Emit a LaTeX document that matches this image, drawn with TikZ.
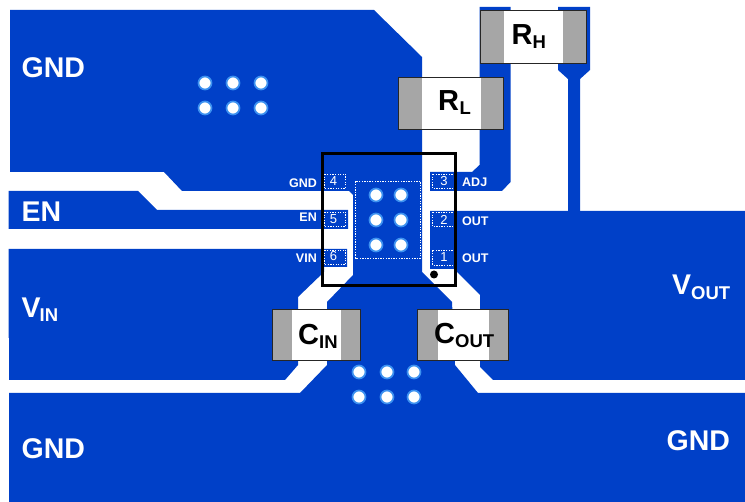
\documentclass[tikz,border=0pt]{standalone}
\usepackage{fontspec}
\setmainfont{Liberation Sans}
\definecolor{copper}{RGB}{0,64,200}
\definecolor{viaring}{RGB}{60,145,240}
\definecolor{capend}{RGB}{166,166,166}
\tikzset{
    copperfill/.style={fill=copper, draw=none},
    capbody/.style={fill=white, draw=none},
    capgrey/.style={fill=capend, draw=none},
    capline/.style={draw=black!85, line width=1pt},
    padline/.style={draw=white, line width=0.8pt, dash pattern=on 1.3pt off 1.3pt},
    viadot/.style={fill=white, draw=viaring, line width=1.7pt},
    bigtext/.style={text=white, font=\bfseries\fontsize{28.5}{28.5}\selectfont, inner sep=0pt, anchor=base west},
    bigsub/.style={text=white, font=\bfseries\fontsize{18.5}{18.5}\selectfont, inner sep=0pt, anchor=base west},
    captext/.style={text=black, font=\bfseries\fontsize{29}{29}\selectfont, inner sep=0pt, anchor=base west},
    capsub/.style={text=black, font=\bfseries\fontsize{18.5}{18.5}\selectfont, inner sep=0pt, anchor=base west},
    pintext/.style={text=white, font=\bfseries\fontsize{12.5}{12.5}\selectfont, inner sep=0pt},
    pinnum/.style={text=white, font=\fontsize{13}{13}\selectfont, inner sep=0pt}
}
\begin{document}
\begin{tikzpicture}[x=1pt,y=-1pt]
    \useasboundingbox (0,0) rectangle (745,502);
    % copper areas
    \path[copperfill] (10,10) -- (374,10) -- (422,57) -- (422,272) -- (452,302) -- (455,365)
        -- (478,393) -- (745,393) -- (745,502) -- (9,502) -- (9,393) -- (300,393) -- (327,365)
        -- (327,302) -- (353,275) -- (353,195) -- (349,191) -- (182,191) -- (164,172) -- (10,172) -- cycle;
    \path[copperfill] (8.5,191) -- (138,191) -- (157,210) -- (348,210) -- (348,229) -- (8.5,229) -- cycle;
    \path[copperfill] (8.5,249) -- (347,249) -- (347,267) -- (324,267) -- (324,272) -- (298,297)
        -- (298,365) -- (285,380) -- (9,380) -- (9,338) -- (8.5,338) -- cycle;
    \path[copperfill] (430,211) -- (745,211) -- (745,380) -- (493,380) -- (480,367) -- (480,295)
        -- (457,272) -- (457,269) -- (430,269) -- cycle;
    \path[copperfill] (479.5,7) -- (510.5,7) -- (510.5,182) -- (502,191) -- (430,191) -- (430,172)
        -- (472,172) -- (479.5,165) -- cycle;
    \path[copperfill] (558,7) -- (590,7) -- (590,70) -- (580,79) -- (580,211) -- (568,211)
        -- (568,79) -- (558,70) -- cycle;
    % vias
    \foreach \x in {205,233,261}{
        \foreach \y in {83,108}{
            \filldraw[viadot] (\x,\y) circle (6.5pt);
        };
    };
    \foreach \x in {376,401}{
        \foreach \y in {195,220,245}{
            \filldraw[viadot] (\x,\y) circle (6.5pt);
        };
    };
    \foreach \x in {359,387,414}{
        \foreach \y in {372,397}{
            \filldraw[viadot] (\x,\y) circle (6.5pt);
        };
    };
    % chip pads
    \draw[padline] (355.5,181.5) rectangle (420.5,258);
    \foreach \y/\n/\m/\ny/\ly in {174/4/GND/181/183.5,212/5/EN/219.5/217.5,250/6/VIN/256/258}{
        \draw[padline] (324,\y) rectangle (345.5,\y+14.5);
        \node[pinnum] (pin\n) at (333.5,\ny) {\n};
        \node[pintext, anchor=east] (label\n) at (317,\ly) {\m};
    };
    \foreach \y/\n/\m/\ny/\ly in {174/3/ADJ/181/182.5,212/2/OUT/219.5/221.5,250.5/1/OUT/257.5/258.5}{
        \draw[padline] (432.5,\y) rectangle (454,\y+14.5);
        \node[pinnum] (pin\n) at (444,\ny) {\n};
        \node[pintext, anchor=west] (label\n) at (462,\ly) {\m};
    };
    % chip outline
    \draw[black, line width=3pt] (322.5,154) rectangle (455,286);
    \fill[black] (434,274.5) circle (4pt);
    % capacitors and resistors
    \foreach \xa/\xb/\xc/\xd/\ya/\yb in {480.5/504/562.5/586.5/10.5/63.5, 398/422/480.5/503.5/77.5/130,
        272.5/292/341/360/309.5/361, 417/437.5/488.5/508.5/309.5/361}{
        \fill[capbody] (\xb,\ya) rectangle (\xc,\yb);
        \fill[capgrey] (\xa,\ya) rectangle (\xb,\yb);
        \fill[capgrey] (\xc,\ya) rectangle (\xd,\yb);
        \draw[capline] (\xa,\ya) rectangle (\xd,\yb);
    };
    \node[captext] (rh) at (511.5,45) {R};
    \node[capsub] (rhsub) at (532.5,49) {H};
    \node[captext] (rl) at (438,111) {R};
    \node[capsub] (rlsub) at (459.5,115) {L};
    \node[captext] (cin) at (298,345) {C};
    \node[capsub] (cinsub) at (319,349) {IN};
    \node[captext] (cout) at (434,344) {C};
    \node[capsub] (coutsub) at (455,348) {OUT};
    % net names
    \node[bigtext] (gndtop) at (21.5,78) {GND};
    \node[bigtext] (en) at (21.5,221.5) {EN};
    \node[bigtext] (vin) at (21.5,317.5) {V};
    \node[bigsub] (vinsub) at (39.5,321.5) {IN};
    \node[bigtext] (vout) at (672,295) {V};
    \node[bigsub] (voutsub) at (691,299.5) {OUT};
    \node[bigtext] (gndleft) at (21.5,458.5) {GND};
    \node[bigtext] (gndright) at (666.5,451) {GND};
\end{tikzpicture}
\end{document}
